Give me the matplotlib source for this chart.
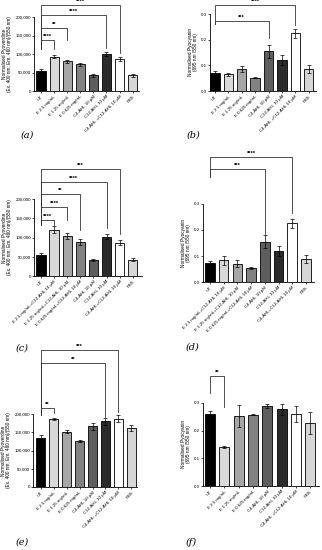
import matplotlib
matplotlib.use("Agg")
import matplotlib.pyplot as plt

plt.rcParams['font.family'] = ['Liberation Sans', 'DejaVu Sans']

# x labels
labels_e = ["UT", "E 2.5 mg/mL", "E 1.25 mg/mL", "E 0.625 mg/mL",
            "C4-AHL 10 µM", "C12-AHL 10 µM", "C4-AHL +C12-AHL 10 µM", "PBS"]
labels_ec = ["UT", "E 2.5 mg/mL+C12-AHL 10 µM", "E 1.25 mg/mL+C12-AHL 10 µM",
             "E 0.625 mg/mL+C12-AHL 10 µM", "C4-AHL 10 µM", "C12-AHL 10 µM",
             "C4-AHL+C12-AHL 10 µM", "PBS"]

# values
pvd_a = [55000, 93000, 80000, 72000, 42000, 100000, 87000, 42000]
pvd_a_err = [5000, 5000, 5000, 5000, 3000, 6000, 6000, 4000]
pyo_b = [0.070, 0.065, 0.085, 0.052, 0.155, 0.120, 0.225, 0.085]
pyo_b_err = [0.008, 0.005, 0.012, 0.003, 0.025, 0.020, 0.018, 0.015]
pvd_c = [55000, 120000, 103000, 88000, 42000, 102000, 87000, 42000]
pvd_c_err = [5000, 9000, 8000, 8000, 3000, 6000, 7000, 4000]
pyo_d = [0.072, 0.083, 0.070, 0.053, 0.155, 0.120, 0.225, 0.087]
pyo_d_err = [0.008, 0.018, 0.013, 0.003, 0.025, 0.020, 0.018, 0.015]
pvd_e = [135000, 187000, 152000, 126000, 166000, 180000, 187000, 162000]
pvd_e_err = [8000, 3000, 3000, 1500, 10000, 10000, 10000, 9000]
pyo_f = [0.260, 0.140, 0.252, 0.257, 0.290, 0.277, 0.260, 0.228]
pyo_f_err = [0.010, 0.003, 0.040, 0.002, 0.008, 0.020, 0.030, 0.040]

# significance: (from, to, stars)
sig_a = [(0, 1, "****"), (0, 2, "**"), (0, 5, "****"), (0, 6, "****")]
sig_b = [(0, 4, "***"), (0, 6, "****")]
sig_c = [(0, 1, "****"), (0, 2, "****"), (0, 3, "**"), (0, 5, "****"), (0, 6, "***")]
sig_d = [(0, 4, "***"), (0, 6, "****")]
sig_e = [(0, 1, "**"), (0, 5, "**"), (0, 6, "***")]
sig_f = [(0, 1, "**")]

colors = ["#000000", "#d9d9d9", "#a6a6a6", "#828282", "#5e5e5e", "#2b2b2b", "#ffffff", "#d6d6d6"]

pvd_lab = "Normalised Pyoverdine\n(Ex. 400 nm; Em. 460 nm)/(550 nm)"
pyo_lab = "Normalised Pyocyanin\n(695 nm /550 nm)"

W, H = 322, 550
fig = plt.figure(figsize=(W / 100, H / 100), dpi=100)


def make_ax(x0, x1, y0, y1):
    return fig.add_axes([x0 / W, 1 - y1 / H, (x1 - x0) / W, (y1 - y0) / H])


def panel(ax, vals, errs, labels, ylab, pvd, xlim, sig, lines, legs):
    x = range(len(vals))
    ax.bar(x, vals, width=0.7, color=colors, edgecolor="black", linewidth=0.6, zorder=2)
    ax.errorbar(x, vals, yerr=errs, fmt="none", ecolor="black", elinewidth=0.5,
                capsize=1.6, capthick=0.5, zorder=3)
    ax.set_xlim(*xlim)
    if pvd:
        ax.set_ylim(0, 200000)
        ax.set_yticks([0, 50000, 100000, 150000, 200000])
        ax.set_yticklabels(["0", "50,000", "100,000", "150,000", "200,000"])
    else:
        ax.set_ylim(0, 0.3)
        ax.set_yticks([0, 0.1, 0.2, 0.3])
        ax.set_yticklabels(["0.0", "0.1", "0.2", "0.3"])
    ax.set_xticks(list(x))
    ax.set_xticklabels(labels, rotation=45, ha="right", rotation_mode="anchor", fontsize=3.2)
    ax.tick_params(axis="y", labelsize=3.2, length=1.5, width=0.5, pad=0.8)
    ax.tick_params(axis="x", length=1.5, width=0.5, pad=1)
    ax.set_ylabel(ylab, fontsize=3.4, labelpad=2, linespacing=1.1)
    for s in ["top", "right"]:
        ax.spines[s].set_visible(False)
    for s in ["left", "bottom"]:
        ax.spines[s].set_linewidth(0.6)
    tr = ax.get_xaxis_transform()
    for (i, j, st), y, (yl, yr) in zip(sig, lines, legs):
        ax.plot([i, i, j, j], [yl, y, y, yr], transform=tr, clip_on=False,
                color="#333333", lw=0.6)
        ax.text((i + j) / 2, y + 0.01, st, transform=tr, ha="center", va="bottom",
                fontsize=4.2, fontweight="bold")


ax_a = make_ax(34, 139, 17, 91)
panel(ax_a, pvd_a, pvd_a_err, labels_e, pvd_lab, True, (-0.54, 7.49), sig_a,
      [0.689, 0.851, 1.027, 1.162], [(0.568, 0.568), (0.568, 0.689), (0.568, 0.58), (0.568, 0.51)])

ax_b = make_ax(210, 316, 14, 91)
panel(ax_b, pyo_b, pyo_b_err, labels_e, pyo_lab, False, (-0.37, 7.54), sig_b,
      [0.913, 1.117], [(0.87, 0.688), (0.87, 0.857)])

ax_c = make_ax(34, 142, 199, 276)
panel(ax_c, pvd_c, pvd_c_err, labels_ec, pvd_lab, True, (-0.53, 7.7), sig_c,
      [0.727, 0.896, 1.065, 1.221, 1.390],
      [(0.66, 0.66), (0.66, 0.727), (0.66, 0.6), (0.66, 0.62), (0.66, 0.55)])

ax_d = make_ax(203, 314, 204, 282)
panel(ax_d, pyo_d, pyo_d_err, labels_ec, pyo_lab, False, (-0.51, 7.59), sig_d,
      [1.449, 1.603], [(1.346, 0.615), (1.346, 0.885)])

ax_e = make_ax(33, 137, 414, 487)
panel(ax_e, pvd_e, pvd_e_err, labels_e, pvd_lab, True, (-0.6, 7.44), sig_e,
      [1.082, 1.699, 1.877], [(0.986, 1.01), (0.986, 0.96), (0.986, 1.027)])

ax_f = make_ax(203, 319, 403, 486)
panel(ax_f, pyo_f, pyo_f_err, labels_e, pyo_lab, False, (-0.49, 7.62), sig_f,
      [1.325], [(1.12, 0.95)])

for lab, px, py in [("(a)", 27, 135), ("(b)", 193, 135), ("(c)", 22, 348),
                    ("(d)", 192, 347), ("(e)", 22, 542), ("(f)", 191, 542)]:
    fig.text(px / W, 1 - py / H, lab, fontsize=7, family="DejaVu Serif",
             style="italic", ha="center", va="center")

fig.savefig("out.png", dpi=100)
